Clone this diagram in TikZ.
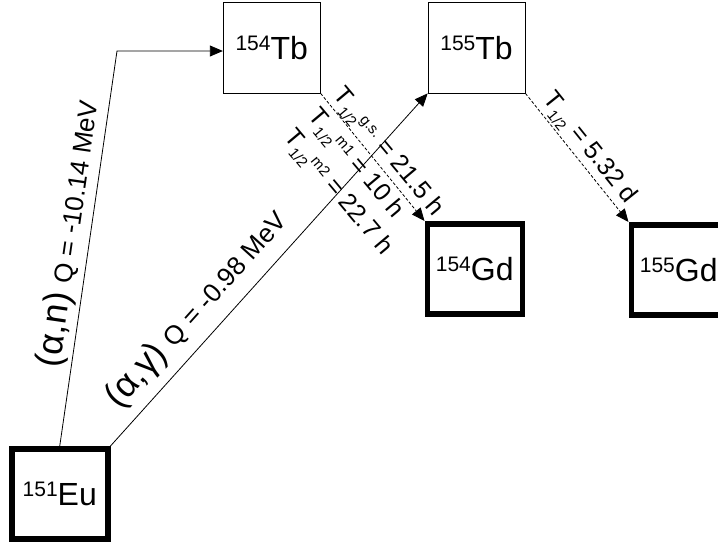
\documentclass[tikz,border=0pt]{standalone}
\usepackage{fontspec}
\setmainfont{Liberation Sans}
\usepackage{tikz}
\usetikzlibrary{arrows.meta,positioning,calc}

\newcommand{\nuc}[2]{\raisebox{9pt}{\fontsize{21}{21}\selectfont #1}#2}
\newcommand{\thalf}[1]{T\raisebox{-7pt}{\fontsize{15}{15}\selectfont 1/2}\raisebox{5pt}{\fontsize{15}{15}\selectfont #1}}
\newcommand{\qfont}{\fontsize{26}{30}\selectfont}

\begin{document}
\begin{tikzpicture}[
  x=1pt, y=-1pt,
  node distance=107pt,
  every node/.style={font=\fontsize{32}{38}\selectfont},
  thinbox/.style={draw, line width=0.8pt, minimum width=97pt,
                  minimum height=91pt, inner sep=0pt},
  thickbox/.style={draw, line width=5.5pt, minimum width=95pt,
                   minimum height=90pt, inner sep=0pt},
  arrow/.style={-{Triangle[length=13pt,width=11pt]}, line width=0.8pt},
  decay/.style={arrow, dash pattern=on 3pt off 2pt},
  reac/.style={font=\fontsize{36}{40}\selectfont, inner sep=0pt},
  halflife/.style={font=\fontsize{25}{32}\selectfont, inner sep=0pt}
]
\useasboundingbox (0,0) rectangle (718,544);

\node[thinbox] (tb154) at (271.75,47.5) {\nuc{154}{Tb}};
\node[thinbox, right=of tb154] (tb155) {\nuc{155}{Tb}};
\node[thickbox] (gd154) at (474.75,268.75) {\nuc{154}{Gd}};
\node[thickbox] (gd155) at (678.75,269.75) {\nuc{155}{Gd}};
\node[thickbox, minimum width=96pt] (eu151) at (59.75,493.75) {\nuc{151}{Eu}};

\coordinate (kink) at (117,51);

% reactions
\draw[arrow] (eu151.north) -- node[reac, sloped, above, pos=0.53, outer sep=4pt]
  {(α,n) {\qfont Q = -10.14 MeV}} (kink) -- (kink -| tb154.west);
\draw[arrow] (eu151.north east) -- node[reac, sloped, above, pos=0.336, outer sep=10pt]
  {(α,γ) {\qfont Q = -0.98 MeV}} (tb155.south west);

% decays
\draw[decay] (tb154.south east) -- (gd154.north west);
\draw[decay] (tb155.south east) -- node[halflife, sloped, above, pos=0.5, outer sep=2pt]
  {\thalf{} = 5.32 d} (gd155.north west);
\node[halflife, rotate=-50, anchor=north west, align=left] (hl154) at (346,84)
  {\thalf{g.s.} = 21.5 h\\ \thalf{m1} = 10 h\\ \thalf{m2} = 22.7 h};
\end{tikzpicture}
\end{document}
